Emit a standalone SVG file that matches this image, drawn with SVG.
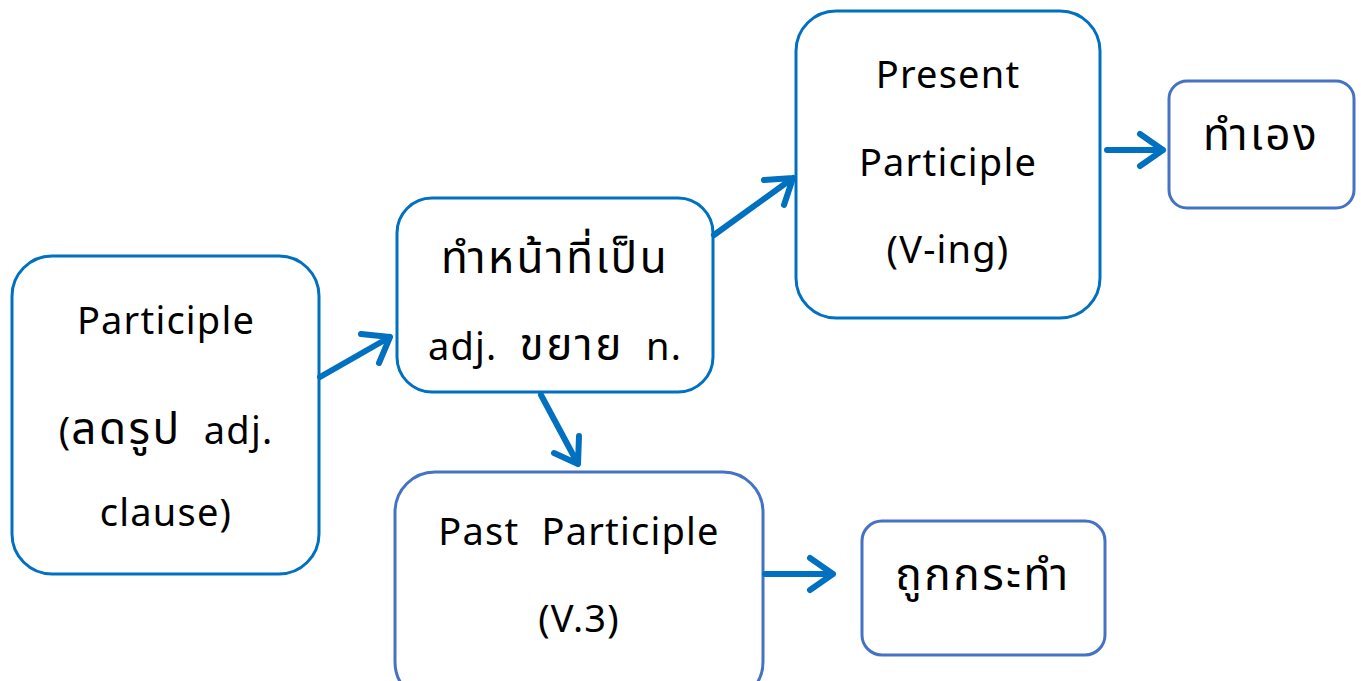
<svg xmlns="http://www.w3.org/2000/svg" width="1361" height="681" viewBox="0 0 1361 681">
<style>
.b1{fill:#fff;stroke:#0070C0;stroke-width:3}
.b2{fill:#fff;stroke:#4472C4;stroke-width:3}
.t{font-family:"Noto Sans","Noto Sans Thai","DejaVu Sans",sans-serif;font-size:38px;letter-spacing:1.2px;fill:#000;text-anchor:middle}
.th{font-size:44px;letter-spacing:2.5px}
.c{fill:none;stroke:#0070C0;stroke-width:6;stroke-linecap:round;stroke-linejoin:round}
</style>
<rect width="1361" height="681" fill="#fff"/>
<g id="n1"><rect class="b1" x="12" y="256" width="307" height="318" rx="40"/>
<text class="t" x="166" y="334">Participle</text>
<text class="t" x="166" y="444">(<tspan class="th">ลดรูป</tspan>&#160; adj.</text>
<text class="t" x="166" y="526">clause)</text></g>
<g id="n2"><rect class="b1" x="397" y="198" width="316" height="194" rx="35"/>
<text class="t" x="555" y="273"><tspan class="th">ทำหน้าที่เป็น</tspan></text>
<text class="t" x="555" y="360">adj.&#160; <tspan class="th">ขยาย</tspan>&#160; n.</text></g>
<g id="n3"><rect class="b1" x="796" y="11" width="304" height="307" rx="40"/>
<text class="t" x="948" y="88">Present</text>
<text class="t" x="948" y="176">Participle</text>
<text class="t" x="948" y="263">(V-ing)</text></g>
<g id="n4"><rect class="b2" x="1169" y="81" width="185" height="127" rx="18"/>
<text class="t" x="1261" y="150"><tspan class="th">ทำเอง</tspan></text></g>
<g id="n5"><rect class="b2" x="395" y="472" width="368" height="230" rx="40"/>
<text class="t" x="579" y="545">Past&#160; Participle</text>
<text class="t" x="579" y="632">(V.3)</text></g>
<g id="n6"><rect class="b2" x="862" y="521" width="243" height="134" rx="20"/>
<text class="t" x="983" y="590"><tspan class="th">ถูกกระทำ</tspan></text></g>
<g id="connectors">
<path class="c" d="M320 377L390 337M361 334L390 337L379 363"/>
<path class="c" d="M714 235L793 178M764 180L793 178L784 205"/>
<path class="c" d="M541 395L578 464M554 453L578 464L579 436"/>
<path class="c" d="M1107 150L1163 150M1140 134L1163 150L1140 166"/>
<path class="c" d="M765 574L833 574M810 558L833 574L810 590"/>
</g>
</svg>
